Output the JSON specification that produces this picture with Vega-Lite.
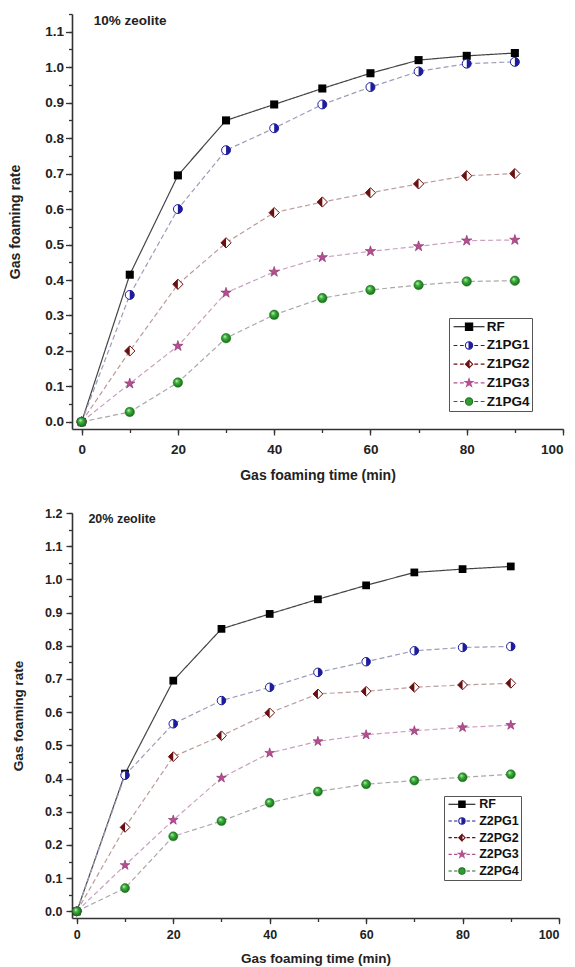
{
  "$schema": "https://vega.github.io/schema/vega-lite/v6.json",
  "padding": {"left": 8, "top": 13, "right": 5, "bottom": 2},
  "spacing": 24,
  "config": {
    "view": {"stroke": null},
    "font": "Liberation Sans",
    "axis": {"domainColor": "#333", "domainWidth": 1.6, "tickColor": "#333", "tickWidth": 1.3, "labelFont": "Liberation Sans", "labelFontWeight": "bold", "labelColor": "#222", "titleFont": "Liberation Sans", "titleFontWeight": "bold", "titleColor": "#222", "grid": false},
    "legend": {"labelFont": "Liberation Sans", "labelFontWeight": "bold", "labelColor": "#111", "strokeColor": "#555", "fillColor": "white", "symbolStrokeWidth": 1.1}
  },
  "datasets": {
    "p10": [
      {"s": "RF", "t": 0, "v": 0}, {"s": "RF", "t": 10, "v": 0.415}, {"s": "RF", "t": 20, "v": 0.695}, {"s": "RF", "t": 30, "v": 0.85}, {"s": "RF", "t": 40, "v": 0.895}, {"s": "RF", "t": 50, "v": 0.94}, {"s": "RF", "t": 60, "v": 0.983}, {"s": "RF", "t": 70, "v": 1.02}, {"s": "RF", "t": 80, "v": 1.032}, {"s": "RF", "t": 90, "v": 1.04},
      {"s": "Z1PG1", "t": 0, "v": 0}, {"s": "Z1PG1", "t": 10, "v": 0.358}, {"s": "Z1PG1", "t": 20, "v": 0.6}, {"s": "Z1PG1", "t": 30, "v": 0.766}, {"s": "Z1PG1", "t": 40, "v": 0.828}, {"s": "Z1PG1", "t": 50, "v": 0.895}, {"s": "Z1PG1", "t": 60, "v": 0.944}, {"s": "Z1PG1", "t": 70, "v": 0.988}, {"s": "Z1PG1", "t": 80, "v": 1.01}, {"s": "Z1PG1", "t": 90, "v": 1.015},
      {"s": "Z1PG2", "t": 0, "v": 0}, {"s": "Z1PG2", "t": 10, "v": 0.2}, {"s": "Z1PG2", "t": 20, "v": 0.388}, {"s": "Z1PG2", "t": 30, "v": 0.505}, {"s": "Z1PG2", "t": 40, "v": 0.59}, {"s": "Z1PG2", "t": 50, "v": 0.62}, {"s": "Z1PG2", "t": 60, "v": 0.646}, {"s": "Z1PG2", "t": 70, "v": 0.671}, {"s": "Z1PG2", "t": 80, "v": 0.694}, {"s": "Z1PG2", "t": 90, "v": 0.7},
      {"s": "Z1PG3", "t": 0, "v": 0}, {"s": "Z1PG3", "t": 10, "v": 0.108}, {"s": "Z1PG3", "t": 20, "v": 0.214}, {"s": "Z1PG3", "t": 30, "v": 0.364}, {"s": "Z1PG3", "t": 40, "v": 0.423}, {"s": "Z1PG3", "t": 50, "v": 0.464}, {"s": "Z1PG3", "t": 60, "v": 0.481}, {"s": "Z1PG3", "t": 70, "v": 0.495}, {"s": "Z1PG3", "t": 80, "v": 0.511}, {"s": "Z1PG3", "t": 90, "v": 0.513},
      {"s": "Z1PG4", "t": 0, "v": 0}, {"s": "Z1PG4", "t": 10, "v": 0.028}, {"s": "Z1PG4", "t": 20, "v": 0.111}, {"s": "Z1PG4", "t": 30, "v": 0.236}, {"s": "Z1PG4", "t": 40, "v": 0.302}, {"s": "Z1PG4", "t": 50, "v": 0.349}, {"s": "Z1PG4", "t": 60, "v": 0.372}, {"s": "Z1PG4", "t": 70, "v": 0.386}, {"s": "Z1PG4", "t": 80, "v": 0.396}, {"s": "Z1PG4", "t": 90, "v": 0.398}
    ],
    "p20": [
      {"s": "RF", "t": 0, "v": 0}, {"s": "RF", "t": 10, "v": 0.415}, {"s": "RF", "t": 20, "v": 0.695}, {"s": "RF", "t": 30, "v": 0.851}, {"s": "RF", "t": 40, "v": 0.896}, {"s": "RF", "t": 50, "v": 0.94}, {"s": "RF", "t": 60, "v": 0.982}, {"s": "RF", "t": 70, "v": 1.021}, {"s": "RF", "t": 80, "v": 1.031}, {"s": "RF", "t": 90, "v": 1.039},
      {"s": "Z2PG1", "t": 0, "v": 0}, {"s": "Z2PG1", "t": 10, "v": 0.41}, {"s": "Z2PG1", "t": 20, "v": 0.565}, {"s": "Z2PG1", "t": 30, "v": 0.635}, {"s": "Z2PG1", "t": 40, "v": 0.675}, {"s": "Z2PG1", "t": 50, "v": 0.72}, {"s": "Z2PG1", "t": 60, "v": 0.752}, {"s": "Z2PG1", "t": 70, "v": 0.785}, {"s": "Z2PG1", "t": 80, "v": 0.795}, {"s": "Z2PG1", "t": 90, "v": 0.798},
      {"s": "Z2PG2", "t": 0, "v": 0}, {"s": "Z2PG2", "t": 10, "v": 0.253}, {"s": "Z2PG2", "t": 20, "v": 0.466}, {"s": "Z2PG2", "t": 30, "v": 0.529}, {"s": "Z2PG2", "t": 40, "v": 0.598}, {"s": "Z2PG2", "t": 50, "v": 0.655}, {"s": "Z2PG2", "t": 60, "v": 0.663}, {"s": "Z2PG2", "t": 70, "v": 0.675}, {"s": "Z2PG2", "t": 80, "v": 0.682}, {"s": "Z2PG2", "t": 90, "v": 0.687},
      {"s": "Z2PG3", "t": 0, "v": 0}, {"s": "Z2PG3", "t": 10, "v": 0.139}, {"s": "Z2PG3", "t": 20, "v": 0.275}, {"s": "Z2PG3", "t": 30, "v": 0.402}, {"s": "Z2PG3", "t": 40, "v": 0.477}, {"s": "Z2PG3", "t": 50, "v": 0.512}, {"s": "Z2PG3", "t": 60, "v": 0.532}, {"s": "Z2PG3", "t": 70, "v": 0.544}, {"s": "Z2PG3", "t": 80, "v": 0.554}, {"s": "Z2PG3", "t": 90, "v": 0.561},
      {"s": "Z2PG4", "t": 0, "v": 0}, {"s": "Z2PG4", "t": 10, "v": 0.07}, {"s": "Z2PG4", "t": 20, "v": 0.226}, {"s": "Z2PG4", "t": 30, "v": 0.272}, {"s": "Z2PG4", "t": 40, "v": 0.327}, {"s": "Z2PG4", "t": 50, "v": 0.361}, {"s": "Z2PG4", "t": 60, "v": 0.383}, {"s": "Z2PG4", "t": 70, "v": 0.394}, {"s": "Z2PG4", "t": 80, "v": 0.404}, {"s": "Z2PG4", "t": 90, "v": 0.413}
    ]
  },
  "resolve": {"scale": {"color": "independent", "strokeDash": "independent", "fill": "independent", "stroke": "independent", "shape": "independent"}},
  "vconcat": [
    {
      "width": 491,
      "height": 415,
      "resolve": {"axis": {"x": "independent", "y": "independent"}},
      "layer": [
        {
          "data": {"name": "p10"},
          "encoding": {
            "x": {"field": "t", "type": "quantitative", "scale": {"domain": [-2, 100], "nice": false, "zero": false}, "axis": {"orient": "bottom", "values": [0, 20, 40, 60, 80, 100], "title": "Gas foaming time (min)", "tickSize": 6, "labelPadding": 7, "titlePadding": 13, "labelFontSize": 13.5, "titleFontSize": 14}},
            "y": {"field": "v", "type": "quantitative", "scale": {"domain": [-0.02, 1.15], "nice": false, "zero": false}, "axis": {"orient": "left", "values": [0, 0.1, 0.2, 0.3, 0.4, 0.5, 0.6, 0.7, 0.8, 0.9, 1.0, 1.1], "format": ".1f", "title": "Gas foaming rate", "tickSize": 6.5, "labelPadding": 2, "titlePadding": 22, "labelFontSize": 13.5, "titleFontSize": 14}}
          },
          "layer": [
            {"mark": {"type": "line", "strokeWidth": 1.2},
             "encoding": {
               "color": {"field": "s", "type": "nominal", "scale": {"domain": ["Z1PG1", "Z1PG2", "Z1PG3", "Z1PG4", "RF"], "range": ["#9c9cb8", "#bb9c9c", "#c9a0bf", "#a9a9a9", "#444444"]}, "legend": null},
               "strokeDash": {"field": "s", "type": "nominal", "scale": {"domain": ["Z1PG1", "Z1PG2", "Z1PG3", "Z1PG4", "RF"], "range": [[5, 3], [5, 3], [5, 3], [5, 3], [1, 0]]}, "legend": null}
             }},
            {"transform": [{"filter": "datum.s === 'RF'"}], "mark": {"type": "point", "shape": "square", "filled": true, "fill": "#000", "size": 65, "opacity": 1}},
            {"transform": [{"filter": "datum.s === 'Z1PG1'"}], "mark": {"type": "point", "shape": "circle", "filled": true, "fill": "#fff", "stroke": "#1c1c9c", "strokeWidth": 1, "size": 80, "opacity": 1}},
            {"transform": [{"filter": "datum.s === 'Z1PG1'"}], "mark": {"type": "point", "shape": "M0,-1A1,1,0,0,1,0,1Z", "filled": true, "fill": "#1c1c9c", "strokeWidth": 0, "size": 80, "opacity": 1}},
            {"transform": [{"filter": "datum.s === 'Z1PG2'"}], "mark": {"type": "point", "shape": "M0,-1L1,0L0,1L-1,0Z", "filled": true, "fill": "#fff", "stroke": "#6a1010", "strokeWidth": 1, "size": 105, "opacity": 1}},
            {"transform": [{"filter": "datum.s === 'Z1PG2'"}], "mark": {"type": "point", "shape": "M0,-1L-1,0L0,1Z", "filled": true, "fill": "#6a1010", "strokeWidth": 0, "size": 105, "opacity": 1}},
            {"transform": [{"filter": "datum.s === 'Z1PG3'"}], "mark": {"type": "point", "shape": "M0,-1L0.225,-0.309L0.951,-0.309L0.363,0.118L0.588,0.809L0,0.382L-0.588,0.809L-0.363,0.118L-0.951,-0.309L-0.225,-0.309Z", "filled": true, "fill": "#b44f90", "stroke": "#8a2a6a", "strokeWidth": 0.6, "size": 120, "opacity": 1}},
            {"transform": [{"filter": "datum.s === 'Z1PG4'"}], "mark": {"type": "point", "shape": "circle", "filled": true, "fill": {"gradient": "radial", "x1": 0.35, "y1": 0.3, "r1": 0, "x2": 0.5, "y2": 0.5, "r2": 0.6, "stops": [{"offset": 0, "color": "#d8f5d0"}, {"offset": 0.35, "color": "#3cb43c"}, {"offset": 1, "color": "#0d5a0d"}]}, "stroke": "#1f6f1f", "strokeWidth": 0.5, "size": 90, "opacity": 1}}
          ]
        },
        {
          "data": {"values": [{"label": "10% zeolite"}]},
          "mark": {"type": "text", "align": "left", "baseline": "alphabetic", "font": "Liberation Sans", "fontWeight": "bold", "fontSize": 13.5, "color": "#222"},
          "encoding": {
            "x": {"datum": 2.5, "type": "quantitative", "scale": {"domain": [-2, 100], "nice": false, "zero": false}, "axis": null},
            "y": {"datum": 1.12, "type": "quantitative", "scale": {"domain": [-0.02, 1.15], "nice": false, "zero": false}, "axis": null},
            "text": {"field": "label", "type": "nominal"}
          }
        },
        {
          "data": {"name": "p10"},
          "transform": [{"filter": "false"}],
          "mark": {"type": "point", "filled": true, "opacity": 1},
          "encoding": {
            "x": {"field": "t", "type": "quantitative", "scale": {"domain": [-2, 100], "nice": false, "zero": false}, "axis": {"orient": "bottom", "values": [0, 10, 20, 30, 40, 50, 60, 70, 80, 90, 100], "tickSize": 3.5, "labels": false, "domain": false, "title": null}},
            "y": {"field": "v", "type": "quantitative", "scale": {"domain": [-0.02, 1.15], "nice": false, "zero": false}, "axis": {"orient": "left", "values": [0, 0.05, 0.1, 0.15, 0.2, 0.25, 0.3, 0.35, 0.4, 0.45, 0.5, 0.55, 0.6, 0.65, 0.7, 0.75, 0.8, 0.85, 0.9, 0.95, 1, 1.05, 1.1, 1.15], "tickSize": 3.5, "labels": false, "domain": false, "title": null}},
            "fill": {"field": "s", "type": "nominal", "scale": {"domain": ["RF", "Z1PG1", "Z1PG2", "Z1PG3", "Z1PG4"], "range": ["#000000", "#1c1c9c", "#6a1010", "#b44f90", "#2f9e2f"]},
              "legend": {"title": null, "orient": "none", "legendX": 377, "legendY": 304, "padding": 2, "labelFontSize": 13.5, "symbolSize": 53, "rowPadding": 3.7, "symbolOffset": 11.3, "labelOffset": 11}},
            "stroke": {"field": "s", "type": "nominal", "scale": {"domain": ["RF", "Z1PG1", "Z1PG2", "Z1PG3", "Z1PG4"], "range": ["#000000", "#1c1c9c", "#6a1010", "#b44f90", "#1f6f1f"]},
              "legend": {"title": null, "orient": "none", "legendX": 377, "legendY": 304, "padding": 2, "labelFontSize": 13.5, "symbolSize": 53, "rowPadding": 3.7, "symbolOffset": 11.3, "labelOffset": 11}},
            "shape": {"field": "s", "type": "nominal", "scale": {"domain": ["RF", "Z1PG1", "Z1PG2", "Z1PG3", "Z1PG4"], "range": [
                "M-4.25,0H-1M1,0H4.25M-1,-1H1V1H-1Z",
                "M-4.25,0H-3.2M-2.5,0H-1.45M1.45,0H2.5M3.2,0H4.25M0,-1A1,1,0,0,1,0,1ZM0,-1A1,1,0,0,0,0,1M0,1A1,1,0,0,1,0,-1",
                "M-4.25,0H-3.2M-2.5,0H-1.45M1.45,0H2.5M3.2,0H4.25M0,-1L-1,0L0,1ZM0,-1L1,0L0,1M0,1L1,0L0,-1",
                "M-4.25,0H-3.2M-2.5,0H-1.45M1.45,0H2.5M3.2,0H4.25M0,-1.15L0.26,-0.36L1.09,-0.36L0.42,0.14L0.68,0.93L0,0.44L-0.68,0.93L-0.42,0.14L-1.09,-0.36L-0.26,-0.36Z",
                "M-4.25,0H-3.2M-2.5,0H-1.45M1.45,0H2.5M3.2,0H4.25M-1,0A1,1,0,1,0,1,0A1,1,0,1,0,-1,0Z"]},
              "legend": {"title": null, "orient": "none", "legendX": 377, "legendY": 304, "padding": 2, "labelFontSize": 13.5, "symbolSize": 53, "rowPadding": 3.7, "symbolOffset": 11.3, "labelOffset": 11}}
          }
        }
      ]
    },
    {
      "width": 487,
      "height": 405,
      "resolve": {"axis": {"x": "independent", "y": "independent"}},
      "layer": [
        {
          "data": {"name": "p20"},
          "encoding": {
            "x": {"field": "t", "type": "quantitative", "scale": {"domain": [-1, 100], "nice": false, "zero": false}, "axis": {"orient": "bottom", "values": [0, 20, 40, 60, 80, 100], "title": "Gas foaming time (min)", "tickSize": 5.7, "labelPadding": 4.5, "titlePadding": 11, "labelFontSize": 12.5, "titleFontSize": 13.5}},
            "y": {"field": "v", "type": "quantitative", "scale": {"domain": [-0.02, 1.2], "nice": false, "zero": false}, "axis": {"orient": "left", "values": [0, 0.1, 0.2, 0.3, 0.4, 0.5, 0.6, 0.7, 0.8, 0.9, 1.0, 1.1, 1.2], "format": ".1f", "title": "Gas foaming rate", "tickSize": 6, "labelPadding": 4, "titlePadding": 19, "labelFontSize": 12.5, "titleFontSize": 13.5}}
          },
          "layer": [
            {"mark": {"type": "line", "strokeWidth": 1.2},
             "encoding": {
               "color": {"field": "s", "type": "nominal", "scale": {"domain": ["Z2PG1", "Z2PG2", "Z2PG3", "Z2PG4", "RF"], "range": ["#9c9cb8", "#bb9c9c", "#c9a0bf", "#a9a9a9", "#444444"]}, "legend": null},
               "strokeDash": {"field": "s", "type": "nominal", "scale": {"domain": ["Z2PG1", "Z2PG2", "Z2PG3", "Z2PG4", "RF"], "range": [[5, 3], [5, 3], [5, 3], [5, 3], [1, 0]]}, "legend": null}
             }},
            {"transform": [{"filter": "datum.s === 'RF'"}], "mark": {"type": "point", "shape": "square", "filled": true, "fill": "#000", "size": 60, "opacity": 1}},
            {"transform": [{"filter": "datum.s === 'Z2PG1'"}], "mark": {"type": "point", "shape": "circle", "filled": true, "fill": "#fff", "stroke": "#1c1c9c", "strokeWidth": 1, "size": 72, "opacity": 1}},
            {"transform": [{"filter": "datum.s === 'Z2PG1'"}], "mark": {"type": "point", "shape": "M0,-1A1,1,0,0,1,0,1Z", "filled": true, "fill": "#1c1c9c", "strokeWidth": 0, "size": 72, "opacity": 1}},
            {"transform": [{"filter": "datum.s === 'Z2PG2'"}], "mark": {"type": "point", "shape": "M0,-1L1,0L0,1L-1,0Z", "filled": true, "fill": "#fff", "stroke": "#6a1010", "strokeWidth": 1, "size": 95, "opacity": 1}},
            {"transform": [{"filter": "datum.s === 'Z2PG2'"}], "mark": {"type": "point", "shape": "M0,-1L-1,0L0,1Z", "filled": true, "fill": "#6a1010", "strokeWidth": 0, "size": 95, "opacity": 1}},
            {"transform": [{"filter": "datum.s === 'Z2PG3'"}], "mark": {"type": "point", "shape": "M0,-1L0.225,-0.309L0.951,-0.309L0.363,0.118L0.588,0.809L0,0.382L-0.588,0.809L-0.363,0.118L-0.951,-0.309L-0.225,-0.309Z", "filled": true, "fill": "#b44f90", "stroke": "#8a2a6a", "strokeWidth": 0.6, "size": 105, "opacity": 1}},
            {"transform": [{"filter": "datum.s === 'Z2PG4'"}], "mark": {"type": "point", "shape": "circle", "filled": true, "fill": {"gradient": "radial", "x1": 0.35, "y1": 0.3, "r1": 0, "x2": 0.5, "y2": 0.5, "r2": 0.6, "stops": [{"offset": 0, "color": "#d8f5d0"}, {"offset": 0.35, "color": "#3cb43c"}, {"offset": 1, "color": "#0d5a0d"}]}, "stroke": "#1f6f1f", "strokeWidth": 0.5, "size": 82, "opacity": 1}}
          ]
        },
        {
          "data": {"values": [{"label": "20% zeolite"}]},
          "mark": {"type": "text", "align": "left", "baseline": "alphabetic", "font": "Liberation Sans", "fontWeight": "bold", "fontSize": 12.5, "color": "#222"},
          "encoding": {
            "x": {"datum": 2.4, "type": "quantitative", "scale": {"domain": [-1, 100], "nice": false, "zero": false}, "axis": null},
            "y": {"datum": 1.171, "type": "quantitative", "scale": {"domain": [-0.02, 1.2], "nice": false, "zero": false}, "axis": null},
            "text": {"field": "label", "type": "nominal"}
          }
        },
        {
          "data": {"name": "p20"},
          "transform": [{"filter": "false"}],
          "mark": {"type": "point", "filled": true, "opacity": 1},
          "encoding": {
            "x": {"field": "t", "type": "quantitative", "scale": {"domain": [-1, 100], "nice": false, "zero": false}, "axis": {"orient": "bottom", "values": [0, 10, 20, 30, 40, 50, 60, 70, 80, 90, 100], "tickSize": 3.5, "labels": false, "domain": false, "title": null}},
            "y": {"field": "v", "type": "quantitative", "scale": {"domain": [-0.02, 1.2], "nice": false, "zero": false}, "axis": {"orient": "left", "values": [0, 0.05, 0.1, 0.15, 0.2, 0.25, 0.3, 0.35, 0.4, 0.45, 0.5, 0.55, 0.6, 0.65, 0.7, 0.75, 0.8, 0.85, 0.9, 0.95, 1, 1.05, 1.1, 1.15, 1.2], "tickSize": 3.5, "labels": false, "domain": false, "title": null}},
            "fill": {"field": "s", "type": "nominal", "scale": {"domain": ["RF", "Z2PG1", "Z2PG2", "Z2PG3", "Z2PG4"], "range": ["#000000", "#1c1c9c", "#6a1010", "#b44f90", "#2f9e2f"]},
              "legend": {"title": null, "orient": "none", "legendX": 372, "legendY": 283, "padding": 2, "labelFontSize": 12.5, "symbolSize": 40, "rowPadding": 3.7, "symbolOffset": 9.7, "labelOffset": 11}},
            "stroke": {"field": "s", "type": "nominal", "scale": {"domain": ["RF", "Z2PG1", "Z2PG2", "Z2PG3", "Z2PG4"], "range": ["#000000", "#1c1c9c", "#6a1010", "#b44f90", "#1f6f1f"]},
              "legend": {"title": null, "orient": "none", "legendX": 372, "legendY": 283, "padding": 2, "labelFontSize": 12.5, "symbolSize": 40, "rowPadding": 3.7, "symbolOffset": 9.7, "labelOffset": 11}},
            "shape": {"field": "s", "type": "nominal", "scale": {"domain": ["RF", "Z2PG1", "Z2PG2", "Z2PG3", "Z2PG4"], "range": [
                "M-4.25,0H-1M1,0H4.25M-1,-1H1V1H-1Z",
                "M-4.25,0H-3.2M-2.5,0H-1.45M1.45,0H2.5M3.2,0H4.25M0,-1A1,1,0,0,1,0,1ZM0,-1A1,1,0,0,0,0,1M0,1A1,1,0,0,1,0,-1",
                "M-4.25,0H-3.2M-2.5,0H-1.45M1.45,0H2.5M3.2,0H4.25M0,-1L-1,0L0,1ZM0,-1L1,0L0,1M0,1L1,0L0,-1",
                "M-4.25,0H-3.2M-2.5,0H-1.45M1.45,0H2.5M3.2,0H4.25M0,-1.15L0.26,-0.36L1.09,-0.36L0.42,0.14L0.68,0.93L0,0.44L-0.68,0.93L-0.42,0.14L-1.09,-0.36L-0.26,-0.36Z",
                "M-4.25,0H-3.2M-2.5,0H-1.45M1.45,0H2.5M3.2,0H4.25M-1,0A1,1,0,1,0,1,0A1,1,0,1,0,-1,0Z"]},
              "legend": {"title": null, "orient": "none", "legendX": 372, "legendY": 283, "padding": 2, "labelFontSize": 12.5, "symbolSize": 40, "rowPadding": 3.7, "symbolOffset": 9.7, "labelOffset": 11}}
          }
        }
      ]
    }
  ]
}
